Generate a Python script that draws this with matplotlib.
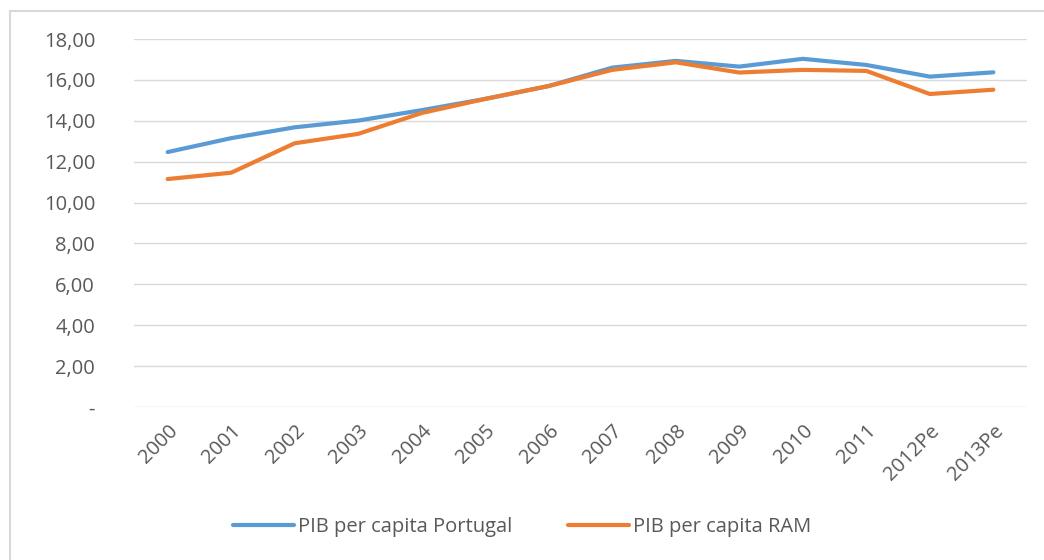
import matplotlib.pyplot as plt
from matplotlib.lines import Line2D
from matplotlib.ticker import FuncFormatter

years = ['2000', '2001', '2002', '2003', '2004', '2005', '2006', '2007',
         '2008', '2009', '2010', '2011', '2012Pe', '2013Pe']
portugal = [12.47, 13.15, 13.68, 14.01, 14.52, 15.07, 15.70, 16.60,
            16.93, 16.65, 17.03, 16.73, 16.16, 16.37]
ram = [11.15, 11.46, 12.90, 13.36, 14.38, 15.07, 15.70, 16.49,
       16.86, 16.36, 16.49, 16.44, 15.31, 15.52]

plt.rcParams['font.family'] = ['Open Sans', 'DejaVu Sans']
txt = '#595959'
fs = 14.5

fig = plt.figure(figsize=(10.44, 5.6), dpi=100)
ax = fig.add_axes([134 / 1044, 1 - 407 / 560, (1027 - 134) / 1044, (407 - 39) / 560])

x = range(len(years))
ax.plot(x, portugal, color='#5B9BD5', lw=3, solid_capstyle='round',
        label='PIB per capita Portugal')
ax.plot(x, ram, color='#ED7D31', lw=3, solid_capstyle='round',
        label='PIB per capita RAM')

ax.set_ylim(0, 18)
ax.set_xlim(-0.53, len(years) - 0.47)
ax.set_yticks(range(0, 19, 2))
ax.yaxis.set_major_formatter(FuncFormatter(
    lambda v, p: '-' if v == 0 else f'{v:.2f}'.replace('.', ',')))
ax.set_xticks(list(x))
ax.set_xticklabels(years, rotation=45, ha='right', rotation_mode='anchor')
ax.tick_params(length=0, colors=txt, labelsize=fs)
ax.tick_params(axis='y', pad=28)
ax.tick_params(axis='x', pad=10)
ax.grid(axis='y', color='#d9d9d9', lw=1)
ax.set_axisbelow(True)
for s in ax.spines.values():
    s.set_visible(False)

# chart border (top and left visible)
fig.add_artist(Line2D([10 / 1044, 10 / 1044], [0, 1 - 11 / 560],
                      transform=fig.transFigure, color='#d9d9d9', lw=1.5))
fig.add_artist(Line2D([10 / 1044, 1], [1 - 11 / 560, 1 - 11 / 560],
                      transform=fig.transFigure, color='#d9d9d9', lw=1.5))

leg = fig.legend(loc='center', bbox_to_anchor=(0.5, 1 - 527 / 560), ncol=2,
                 frameon=False, fontsize=fs, handlelength=3.0,
                 columnspacing=2.8, handletextpad=0.2)
for t in leg.get_texts():
    t.set_color(txt)

fig.savefig('out.png', dpi=100)
